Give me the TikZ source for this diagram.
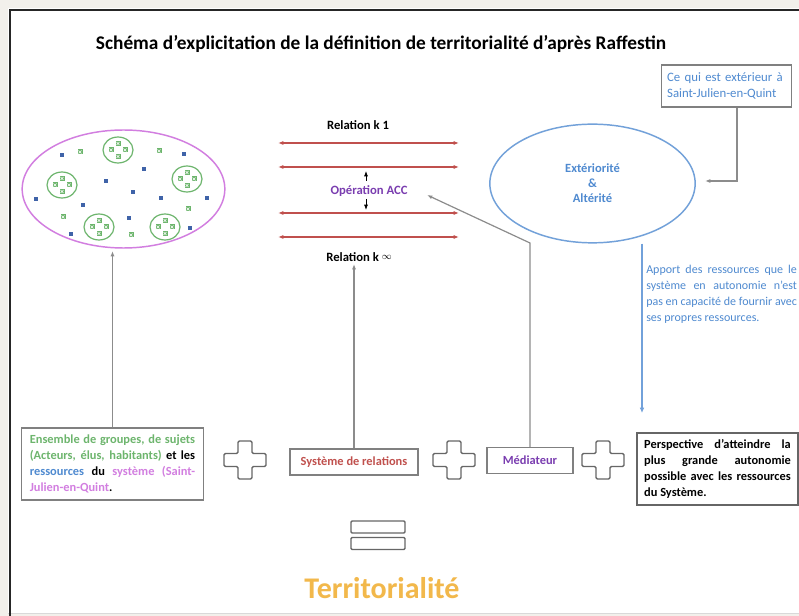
\documentclass[tikz,border=0pt]{standalone}
\usepackage{fontspec}
\setmainfont{Carlito}
\usetikzlibrary{calc, positioning, shapes.geometric, arrows.meta}

\definecolor{grn}{HTML}{6DB56D}
\definecolor{sqblue}{HTML}{3F63A8}
\definecolor{mauve}{HTML}{D27EE0}
\definecolor{extblue}{HTML}{4F8AD0}
\definecolor{relred}{HTML}{C0504D}
\definecolor{accpurple}{HTML}{7A3DB0}
\definecolor{terrorange}{HTML}{F2B84B}
\definecolor{pagebg}{HTML}{F2F0EB}
\definecolor{linegray}{HTML}{8C8C8C}

\tikzset{
  grnsq/.pic={\fill[grn] (-2.5,-2.5) rectangle (2.5,2.5);
    \draw[white, line width=.3pt] (-1.5,-1.5) -- (1.5,1.5) (-1.5,1.5) -- (1.5,-1.5);},
  plussign/.pic={\draw[black!60, line width=1.1pt, rounded corners=1pt]
    (-21,-6.5) -- (-7,-6.5) -- (-7,-19) -- (7,-19) -- (7,-6.5) -- (21,-6.5) -- (21,6.5)
    -- (7,6.5) -- (7,19) -- (-7,19) -- (-7,6.5) -- (-21,6.5) -- cycle;}
}

\begin{document}
\begin{tikzpicture}[x=0.75pt, y=-0.75pt, >={Latex[length=4pt,width=3pt]},
    box/.style={draw=black!50, line width=0.9pt, inner sep=0pt, font=\fontsize{9.3}{12}\selectfont\bfseries},
    lbl/.style={font=\fontsize{9.5}{11}\selectfont\bfseries},
    rel/.style={relred, line width=0.9pt, {Latex[length=4pt,width=3pt]}-{Latex[length=4pt,width=3pt]}},
    up/.style={->, linegray, line width=0.9pt}]
  \useasboundingbox (0,0) rectangle (799,616);
  \clip (0,0) rectangle (799,616);
  % page
  \fill[pagebg] (0,0) rectangle (799,616);
  \fill[white] (8,8) rectangle (799,613);
  \draw[black!15, line width=0.8pt] (8,613.5) -- (799,613.5);
  \draw[black!85, line width=2.2pt] (10,616) -- (10,10) -- (799,10);

  \node[font=\fontsize{14.5}{17}\selectfont\bfseries] (title) at (381,44)
    {Schéma d’explicitation de la définition de territorialité d’après Raffestin};

  % systeme
  \node[draw=mauve, line width=1.1pt, ellipse, minimum width=152pt, minimum height=88.5pt] (sys) at (123.5,189) {};
  \foreach \cx/\cy in {118/150, 62/185, 187/179, 99/227, 165/227} {
    \draw[grn, line width=0.9pt] (\cx,\cy) ellipse [x radius=15, y radius=13];
    \foreach \dx/\dy in {-7/0, 7/0, 0/-6.5, 0/6.5}
      \pic at (\cx+\dx,\cy+\dy) {grnsq};
  }
  \foreach \x/\y in {80/152, 159/151, 188/209, 63/217, 131/235}
    \pic at (\x,\y) {grnsq};
  \foreach \x/\y in {62/155, 184/154, 144/169, 106/181, 133/192, 161/198, 36/199,
                     207/198, 83/205, 129/218, 71/234, 190/228}
    \fill[sqblue] (\x-2,\y-2) rectangle (\x+2,\y+2);

  % relations
  \node[lbl] (rel1) at (358,125) {Relation k 1};
  \node[lbl] (relinf) at (359,257) {Relation k \raisebox{0.3ex}{\scalebox{0.8}{$\infty$}}};
  \foreach \i/\y in {1/143, 2/167, 3/213, 4/237} {
    \coordinate (rw\i) at (278,\y);
    \coordinate (re\i) at (459,\y);
    \draw[rel] (rw\i) -- (re\i);
  }
  \node[lbl, text=accpurple] (acc) at (369,191) {Opération ACC};
  \coordinate (accUp) at (366,171);
  \coordinate (accDown) at (366,210);
  \draw[->, line width=0.6pt] (366,181) -- (accUp);
  \draw[->, line width=0.6pt] (366,199) -- (accDown);

  % exteriorite
  \node[draw=extblue!80, line width=1.1pt, ellipse, minimum width=154pt, minimum height=89pt,
        align=center, text=extblue, font=\fontsize{9.4}{11.25}\selectfont\bfseries] (ext) at (592.5,183.5)
    {Extériorité\\\&\\Altérité};
  \node[box, font=\fontsize{9.6}{11.8}\selectfont, text=extblue, minimum width=97pt, minimum height=31.5pt,
        text width=89pt, align=left] (cequi) at (726.5,86)
    {Ce qui est extérieur à\\Saint-Julien-en-Quint};
  \coordinate (extTip) at (705,181);
  \draw[->, linegray, line width=0.9pt] ($(cequi.south)+(10.5,0)$) |- (extTip);

  \node[anchor=north west, inner sep=0pt, text width=113pt, align=justify, text=extblue,
        font=\fontsize{9}{12}\selectfont] (apport) at (646,265)
    {Apport des ressources que le\linebreak système en autonomie n’est\linebreak
     pas en capacité de fournir avec\linebreak ses propres ressources.};
  \coordinate (apportEnd) at (642,413);
  \draw[->, extblue!80, line width=0.8pt, >={Latex[length=4pt,width=3.5pt]}] (ext.south -| apportEnd) -- (apportEnd);

  % bas
  \node[box, minimum width=136pt, minimum height=54pt, text width=124pt, align=justify] (ens) at (112.5,464)
    {{\color{grn}Ensemble de groupes, de sujets\linebreak (Acteurs, élus, habitants)} et les\linebreak
     {\color{extblue}ressources} du {\color{mauve}système (Saint-\linebreak Julien-en-Quint}.};
  \pic at (245,460) {plussign};
  \node[box, text=relred, minimum width=96pt, minimum height=19.5pt] (relsys) at (354,462) {Système de relations};
  \pic at (454,460) {plussign};
  \node[box, text=accpurple, minimum width=64.5pt, minimum height=19pt] (med) at (530,460.5) {Médiateur};
  \pic at (603,460) {plussign};
  \node[box, draw=black!60, line width=1.1pt, minimum width=121pt, minimum height=54pt, text width=110pt,
        align=justify] (persp) at (717.5,469)
    {Perspective d’atteindre la\linebreak plus grande autonomie\linebreak possible avec les ressources\linebreak du Système.};

  \coordinate (ensTip) at (112.5,251);
  \coordinate (relTip) at (354,264);
  \coordinate (medBend) at (530,243);
  \coordinate (accTip) at (427,195);
  \draw[up] (ens.north) -- (ensTip);
  \draw[up] (relsys.north) -- (relTip);
  \draw[up] (med.north) -- (medBend) -- (accTip);

  % egal
  \draw[black!60, line width=1.1pt, rounded corners=0.8pt] (351,521) rectangle (405,533);
  \draw[black!60, line width=1.1pt, rounded corners=0.8pt] (351,537.5) rectangle (405,549.5);
  \node[text=terrorange, font=\fontsize{22.5}{26}\selectfont\bfseries] (terr) at (382,588) {Territorialité};
\end{tikzpicture}
\end{document}
